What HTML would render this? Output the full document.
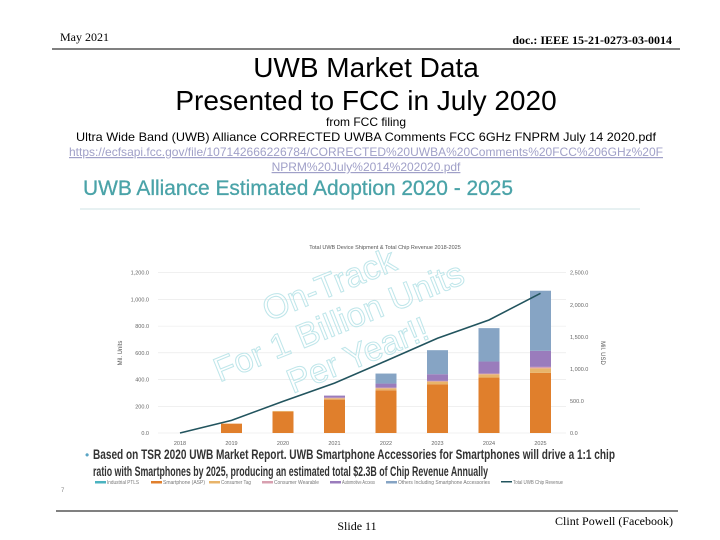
<!DOCTYPE html>
<html><head><meta charset="utf-8"><style>
html,body{margin:0;padding:0;background:#fff;}
svg{display:block;}
</style></head><body>
<svg id="page" width="720" height="540" viewBox="0 0 720 540" xmlns="http://www.w3.org/2000/svg" font-family="Liberation Sans, sans-serif">
<text x="60" y="41" font-family="Liberation Serif, serif" font-size="12">May 2021</text>
<text x="672" y="44" text-anchor="end" font-family="Liberation Serif, serif" font-size="12" font-weight="bold">doc.: IEEE 15-21-0273-03-0014</text>
<line x1="52" y1="49" x2="680" y2="49" stroke="#000" stroke-width="1"/>
<text x="366" y="77" text-anchor="middle" font-size="28">UWB Market Data</text>
<text x="366" y="110" text-anchor="middle" font-size="28">Presented to FCC in July 2020</text>
<text x="366" y="126" text-anchor="middle" font-size="12">from FCC filing</text>
<text x="366" y="141" text-anchor="middle" font-size="12" textLength="580" lengthAdjust="spacingAndGlyphs">Ultra Wide Band (UWB) Alliance CORRECTED UWBA Comments FCC 6GHz FNPRM July 14 2020.pdf</text>
<text x="366" y="156" text-anchor="middle" font-size="12" fill="#a0a0c8" text-decoration="underline" textLength="594" lengthAdjust="spacingAndGlyphs">https://ecfsapi.fcc.gov/file/107142666226784/CORRECTED%20UWBA%20Comments%20FCC%206GHz%20F</text>
<text x="366" y="171" text-anchor="middle" font-size="12" fill="#a0a0c8" text-decoration="underline">NPRM%20July%2014%202020.pdf</text>

<text x="83" y="195" font-size="21" fill="#4aa3a8" stroke="#4aa3a8" stroke-width="0.3" textLength="430" lengthAdjust="spacingAndGlyphs">UWB Alliance Estimated Adoption 2020 - 2025</text>
<line x1="80" y1="209" x2="640" y2="209" stroke="#cfe3e5" stroke-width="1"/>
<text x="385" y="249" text-anchor="middle" font-size="5.5" fill="#555">Total UWB Device Shipment &amp; Total Chip Revenue 2018-2025</text>
<text transform="translate(122,353) rotate(-90)" text-anchor="middle" font-size="6" fill="#555">Mil. Units</text>
<text transform="translate(601,353) rotate(90)" text-anchor="middle" font-size="6" fill="#555">Mil. USD</text>
<g id="grid"></g>
<g id="bars"></g>
<g id="line"></g>
<g id="ticks"></g>
<g transform="rotate(-22 340 325)" font-size="34" fill="none" stroke="#bfe6ea" stroke-width="1" text-anchor="middle">
<text x="345" y="295">On-Track</text>
<text x="340" y="333">For 1 Billion Units</text>
<text x="345" y="371">Per Year!!</text>
</g>
<text x="85" y="459" font-size="12" fill="#5aa5c5">•</text>
<text x="93" y="459" font-size="13.5" font-weight="bold" fill="#333" textLength="522" lengthAdjust="spacingAndGlyphs">Based on TSR 2020 UWB Market Report. UWB Smartphone Accessories for Smartphones will drive a 1:1 chip</text>
<text x="93" y="476" font-size="13.5" font-weight="bold" fill="#333" textLength="395" lengthAdjust="spacingAndGlyphs">ratio with Smartphones by 2025, producing an estimated total $2.3B of Chip Revenue Annually</text>
<g id="legend"></g>
<text x="61" y="492" font-size="6" fill="#888">7</text>
<line x1="56" y1="511" x2="678" y2="511" stroke="#000" stroke-width="1"/>
<text x="357" y="530" text-anchor="middle" font-family="Liberation Serif, serif" font-size="12">Slide 11</text>
<text x="673" y="525" text-anchor="end" font-family="Liberation Serif, serif" font-size="12">Clint Powell (Facebook)</text>
</svg>
<script>
const years = ['2018','2019','2020','2021','2022','2023','2024','2025'];
const industrial = [0,0,0,0,0,0,0,0];
const smartphone = [0,70,160,250,320,365,415,450];
const consumerTag = [0,0,5,10,15,20,25,35];
const wearable = [0,0,0,5,5,5,5,10];
const automotive = [0,0,0,15,30,50,90,120];
const others = [0,0,0,0,75,180,250,450];
const revenue = [0,197,493,778,1125,1478,1763,2178];
const leftTicks = ['0.0','200.0','400.0','600.0','800.0','1,000.0','1,200.0'];
const rightTicks = ['0.0','500.0','1,000.0','1,500.0','2,000.0','2,500.0'];
const seriesNames = ['Industrial PTLS','Smartphone (ASP)','Consumer Tag','Consumer Wearable','Automotive Access','Others Including Smartphone Accessories','Total UWB Chip Revenue'];

const NS='http://www.w3.org/2000/svg';
const plotL=158, plotR=566, y0=433, yTop=272.7;
const yL=v=>y0-(v/1200)*(y0-yTop);
const yR=v=>y0-(v/2500)*(y0-yTop);
const xC=i=>180+i*51.5;
const barW=21;
function mk(tag,attrs,parent){const e=document.createElementNS(NS,tag);for(const k in attrs)e.setAttribute(k,attrs[k]);parent.appendChild(e);return e;}
const grid=document.getElementById('grid'),bars=document.getElementById('bars'),line=document.getElementById('line'),ticks=document.getElementById('ticks'),legend=document.getElementById('legend');
leftTicks.forEach((t,i)=>{
  const v=i*200;
  const g=mk('line',{x1:plotL,x2:plotR,y1:yL(v),y2:yL(v),stroke:'#e6e6e6','stroke-width':0.6},grid);
  
  
  const tx=mk('text',{x:149,y:yL(v)+2,'text-anchor':'end','font-size':5.5,fill:'#666'},ticks);
  tx.textContent=t;
  
  
});
rightTicks.forEach((t,i)=>{
  const v=i*500;
  const tx=mk('text',{x:570,y:yR(v)+2,'font-size':5.5,fill:'#666'},ticks);
  tx.textContent=t;
  
  
});
const stacks=[[industrial,'#4bb3c0'],[smartphone,'#e07f2c'],[consumerTag,'#e8b46a'],[wearable,'#d8a0b0'],[automotive,'#9a7cbc'],[others,'#86a4c4']];
years.forEach((yr,i)=>{
  let acc=0;
  stacks.forEach(([arr,col],s)=>{
    const v=arr[i]; if(v<=0)return;
    const r=mk('rect',{x:xC(i)-barW/2,y:yL(acc+v),width:barW,height:yL(acc)-yL(acc+v),fill:col},bars);
    
    
    acc+=v;
  });
  const tx=mk('text',{x:xC(i),y:445,'text-anchor':'middle','font-size':5.5,fill:'#666'},ticks);
  tx.textContent=yr;
  
  
});
const pts=revenue.map((v,i)=>xC(i)+','+yR(v)).join(' ');
const pl=mk('polyline',{points:pts,fill:'none',stroke:'#22545e','stroke-width':1.6},line);


const legCols=['#4bb3c0','#e07f2c','#e8b46a','#d8a0b0','#9a7cbc','#86a4c4','#22545e'];
const legX=[95,151,209,262,330,386,501];
const legW=[32,42,30,45,33,92,50];
seriesNames.forEach((n,i)=>{
  const r=mk('rect',{x:legX[i],y:481,width:11,height:i==6?1.5:2.5,fill:legCols[i]},legend);
  
  
  const t=mk('text',{x:legX[i]+12,y:484,'font-size':5,fill:'#777',textLength:legW[i],lengthAdjust:'spacingAndGlyphs'},legend);
  t.textContent=n;
  
  
});
</script>
</body></html>
